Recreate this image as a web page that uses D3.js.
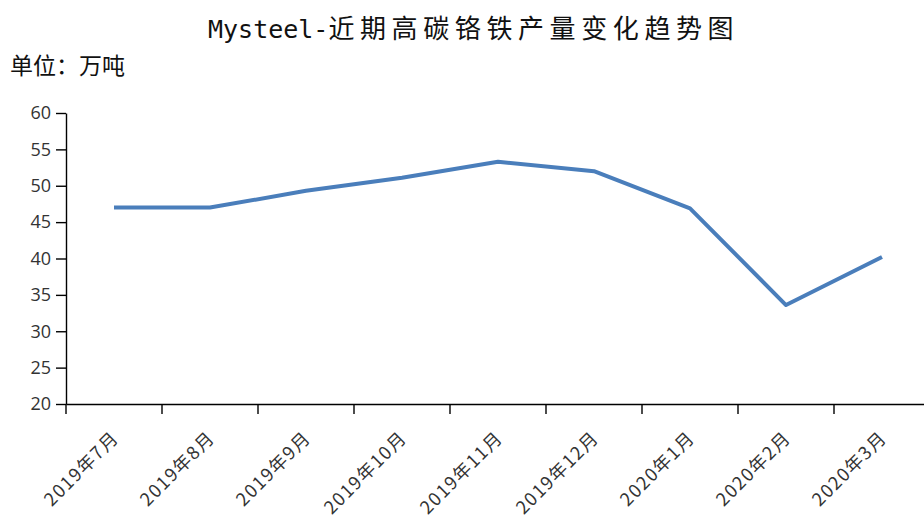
<!DOCTYPE html>
<html><head><meta charset="utf-8">
<script src="https://cdn.jsdelivr.net/npm/d3@7"></script>
<style>body{margin:0;background:#fff;} svg{display:block;}</style>
</head><body>
<svg id="chart" width="924" height="520"></svg>
<script>
const titleLatin = "Mysteel-";
const titleCJK = "近期高碳铬铁产量变化趋势图";
const unitText = "单位：万吨";
const categories = ["2019年7月","2019年8月","2019年9月","2019年10月","2019年11月","2019年12月","2020年1月","2020年2月","2020年3月"];
const values = [47.0, 47.0, 49.3, 51.1, 53.3, 52.0, 46.9, 33.6, 40.2];
const yTicks = [20,25,30,35,40,45,50,55,60];

(function(){
const svg = d3.select("#chart");
const mLeft = 66, mRight = 930, mTop = 113, mBottom = 404;
const x = d3.scaleBand().domain(categories).range([mLeft, mRight]);
const y = d3.scaleLinear().domain([20, 60]).range([mBottom, mTop]);

const t = svg.append("text").attr("x", 208).attr("y", 38).attr("font-size",26).attr("fill","#111");
t.append("tspan").attr("font-family","'DejaVu Sans Mono', monospace").attr("font-size",25).text(titleLatin);
t.append("tspan").attr("font-family","'Noto Sans CJK SC', sans-serif").attr("letter-spacing",5.6).text(titleCJK);

svg.append("text").attr("x", 10).attr("y", 74)
  .attr("font-family","'Noto Sans CJK SC', sans-serif").attr("font-size",23).attr("fill","#111")
  .text(unitText);

const yAxis = svg.append("g").attr("transform",`translate(${mLeft},0)`)
  .call(d3.axisLeft(y).tickValues(yTicks).tickSize(10).tickPadding(5).tickSizeOuter(0));
yAxis.selectAll("text").attr("font-family","'Open Sans', 'DejaVu Sans', sans-serif").attr("font-size",18).attr("fill","#333");
yAxis.selectAll("line,path").attr("stroke","#000").attr("stroke-width",1.4);

const xAxis = svg.append("g").attr("transform",`translate(0,${mBottom})`)
  .call(d3.axisBottom(x).tickValues([]).tickSizeOuter(0));
xAxis.select("path").attr("stroke","#000").attr("stroke-width",1.4);
xAxis.selectAll("line.bt").data(categories).enter().append("line").attr("class","bt")
  .attr("x1", d => x(d)).attr("x2", d => x(d)).attr("y1",0).attr("y2",10)
  .attr("stroke","#000").attr("stroke-width",1.4);
xAxis.selectAll("text.lab").data(categories).enter().append("text").attr("class","lab")
  .attr("transform", d => `translate(${x(d)+x.bandwidth()/2+6},${35}) rotate(-45)`)
  .attr("text-anchor","end").attr("font-family","'Noto Sans CJK SC', sans-serif")
  .attr("font-size",18).attr("letter-spacing",1.5).attr("fill","#333").text(d => d);

const line = d3.line().x((d,i) => x(categories[i]) + x.bandwidth()/2).y(d => y(d));
svg.append("path").datum(values).attr("d", line).attr("fill","none")
  .attr("stroke","#4a7ebb").attr("stroke-width",4).attr("stroke-linejoin","round");
})();
</script>
</body></html>
